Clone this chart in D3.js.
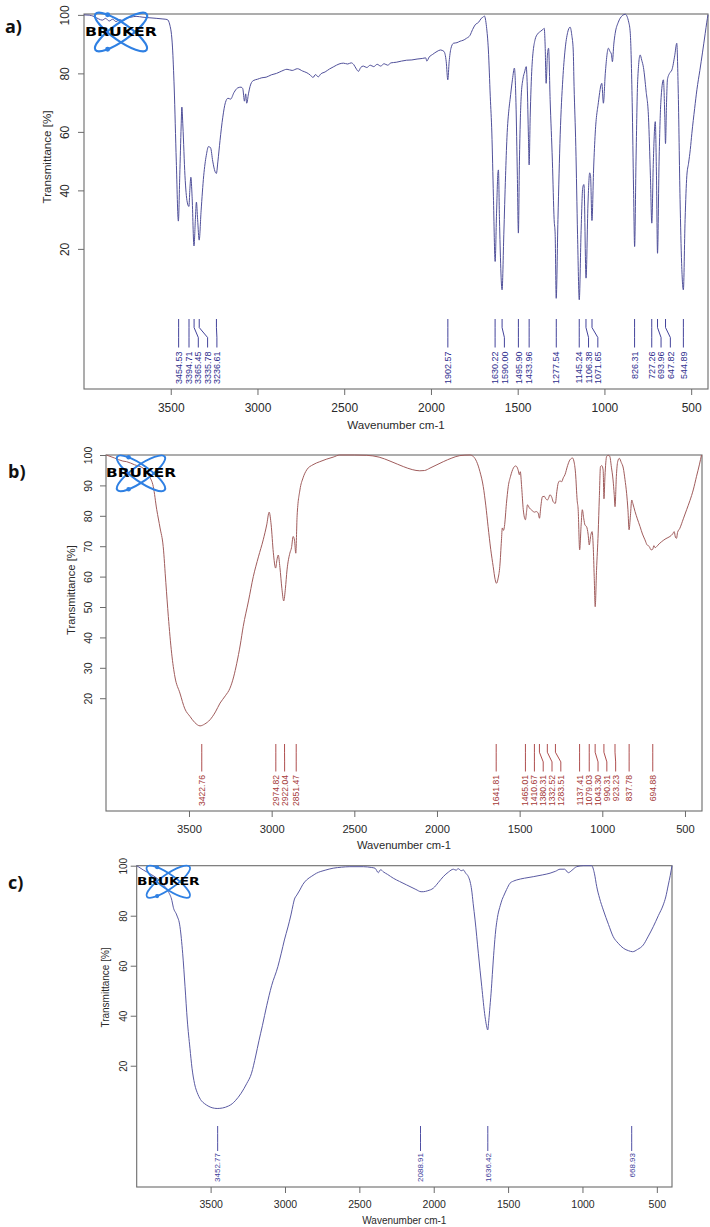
<!DOCTYPE html>
<html>
<head>
<meta charset="utf-8">
<script src="https://cdn.jsdelivr.net/npm/d3@7"></script>
<style>
body { margin: 0; background: #fff; }
svg { display: block; }
</style>
</head>
<body>
<svg id="chart" width="710" height="1227"></svg>
<script>
// Spectra as [wavenumber cm-1, transmittance %]
const specA = [
  [4000, 100], [3970, 99.9], [3940, 99.4], [3915, 98.6], [3895, 98.2], [3875, 98.8], [3855, 97.9],
  [3835, 98.5], [3815, 97.7], [3795, 98.4], [3775, 98.0], [3755, 98.9], [3730, 99.2], [3700, 99.5],
  [3660, 99.2], [3620, 99.0], [3580, 98.8], [3545, 98.6], [3520, 98.4], [3505, 96.5], [3490, 89],
  [3480, 75], [3468, 50], [3456, 29.5], [3448, 45], [3440, 62], [3436, 68.5], [3430, 62], [3418, 45],
  [3405, 36], [3395, 34.5], [3390, 40], [3384, 44.5], [3377, 38], [3366, 21], [3358, 30], [3352, 36],
  [3345, 30], [3336, 23], [3325, 33], [3310, 45], [3295, 52], [3282, 55], [3270, 54.5], [3258, 50],
  [3245, 46.5], [3237, 45.8], [3228, 50], [3216, 57], [3200, 65], [3185, 70], [3170, 71.5],
  [3155, 71.2], [3135, 73.5], [3115, 75], [3095, 75.3], [3085, 74.8], [3075, 70.5], [3068, 73],
  [3062, 69.8], [3052, 73], [3043, 75.5], [3025, 77.5], [3000, 78], [2975, 78.5], [2950, 78.7],
  [2920, 79.5], [2890, 80], [2860, 80.8], [2830, 81.4], [2800, 81], [2770, 81.6], [2740, 80.8],
  [2715, 80.2], [2695, 79.4], [2680, 78.6], [2665, 79.6], [2650, 78.8], [2635, 79.8], [2610, 80.5],
  [2585, 81.5], [2560, 82.3], [2530, 83.2], [2505, 83.5], [2480, 83.2], [2460, 83.6], [2445, 83.0],
  [2430, 81.5], [2418, 80.7], [2405, 82.0], [2390, 82.5], [2370, 82.0], [2350, 82.8], [2330, 82.3],
  [2310, 83.1], [2290, 82.5], [2270, 83.3], [2250, 82.8], [2230, 83.6], [2200, 83.8], [2170, 84.2],
  [2140, 84.5], [2110, 84.6], [2080, 84.9], [2050, 85.1], [2030, 85.3], [2024, 84.2], [2010, 85.6],
  [1990, 86.5], [1965, 87.5], [1945, 88], [1925, 87.5], [1912, 84], [1903, 77.8], [1895, 84],
  [1885, 88.5], [1870, 90.3], [1850, 90.5], [1832, 91], [1815, 91.3], [1795, 92], [1775, 93],
  [1760, 95], [1745, 96.6], [1725, 97.5], [1710, 98.8], [1698, 99.3], [1692, 99.6], [1680, 96],
  [1669, 88], [1658, 72], [1649, 59.6], [1640, 38], [1630, 15.7], [1622, 32], [1614, 46], [1611, 47],
  [1605, 30], [1590, 6], [1580, 25], [1570, 45], [1562, 58], [1550, 68], [1544, 71], [1530, 78],
  [1519, 81.8], [1510, 70], [1502, 45], [1496, 25.4], [1490, 50], [1480, 72], [1470, 78], [1460, 80.5],
  [1451, 82.3], [1445, 76], [1438, 58], [1434, 48.7], [1428, 65], [1418, 82], [1400, 91.5],
  [1385, 93.5], [1370, 94.3], [1355, 95], [1347, 95.4], [1342, 90], [1336, 76.6], [1329, 86],
  [1322, 88.6], [1313, 71], [1300, 50], [1290, 30], [1284, 25], [1278, 3.1], [1268, 30], [1255, 59],
  [1240, 78], [1227, 88], [1212, 94], [1198, 95.8], [1188, 93], [1180, 88], [1175, 75.5], [1165, 55],
  [1155, 25], [1145, 2.6], [1135, 25], [1125, 41], [1118, 42], [1106, 10], [1095, 35], [1085, 46],
  [1080, 45], [1072, 29.7], [1062, 48], [1053, 59.6], [1035, 70], [1015, 76.6], [1006, 69.8],
  [995, 80], [977, 88.6], [968, 87.5], [960, 86.6], [954, 84], [946, 90], [938, 93.7], [920, 97.5],
  [909, 98.9], [880, 100.2], [860, 97.5], [851, 93.7], [840, 70], [832, 40], [826, 20.8], [818, 50],
  [808, 78], [794, 86.3], [785, 84.5], [775, 82], [760, 74], [746, 65], [735, 45], [727, 28.8],
  [718, 50], [707, 63.5], [700, 45], [694, 18.5], [685, 50], [675, 70], [660, 77.8], [652, 65],
  [648, 56], [642, 70], [637, 77.8], [625, 80], [611, 81.2], [595, 86], [583, 90.3], [575, 75],
  [564, 36.8], [555, 15], [545, 6], [535, 30], [525, 45], [515, 49.3], [505, 54], [496, 59.5],
  [480, 68], [467, 74.4], [450, 81], [435, 87], [419, 93.7], [410, 97.5], [403, 100]
]
const peaksA = [3454.53, 3394.71, 3365.45, 3335.78, 3236.61, 1902.57, 1630.22, 1590.00, 1495.90,
  1433.96, 1277.54, 1145.24, 1106.38, 1071.65, 826.31, 727.26, 693.96, 647.82, 544.89]

const specB = [
  [4000, 100], [3950, 99], [3900, 98], [3877, 97.8], [3830, 96.8], [3776, 95.6], [3740, 93],
  [3716, 89.6], [3695, 82], [3675, 76], [3656, 69.9], [3640, 58], [3625, 46.9], [3605, 34.8],
  [3585, 27], [3555, 21.7], [3525, 16.5], [3494, 14], [3465, 12], [3433, 10.9], [3405, 11.5],
  [3373, 12.9], [3340, 15.5], [3312, 18.4], [3280, 20.8], [3252, 23.3], [3230, 27], [3211, 31.5],
  [3190, 37.5], [3172, 43.6], [3140, 52], [3111, 60], [3080, 66.5], [3051, 72.1], [3030, 77],
  [3015, 81.2], [3003, 77], [2990, 68], [2976, 62.8], [2968, 65.5], [2960, 67.1], [2950, 63],
  [2938, 56], [2927, 52], [2917, 56], [2907, 62.2], [2890, 67.7], [2880, 69.5], [2870, 73.2],
  [2862, 72], [2854, 67.7], [2846, 80], [2829, 88.5], [2810, 92.5], [2788, 95.1], [2750, 96.8],
  [2709, 97.8], [2670, 98.6], [2628, 99.3], [2588, 100], [2500, 100], [2425, 99.9], [2350, 99.3],
  [2284, 98], [2240, 97], [2204, 96.2], [2150, 95.2], [2104, 94.8], [2075, 94.9], [2042, 95.7],
  [2000, 96.8], [1962, 97.8], [1910, 99], [1862, 99.8], [1800, 100], [1780, 99.5], [1760, 97.8],
  [1740, 94.5], [1720, 89.6], [1705, 83.5], [1691, 76.5], [1675, 69], [1660, 63.3], [1648, 59],
  [1640, 57.8], [1630, 59.5], [1620, 63.3], [1610, 72], [1605, 76], [1598, 75.2], [1592, 76.5],
  [1580, 84], [1569, 89.6], [1555, 93], [1538, 95.7], [1525, 96.4], [1518, 96.2], [1508, 94.8],
  [1502, 93.5], [1496, 94.5], [1488, 89.6], [1478, 82], [1465, 78.7], [1458, 81.5], [1453, 83.6],
  [1440, 82.5], [1430, 82], [1420, 81.5], [1410, 81.2], [1400, 81.4], [1388, 80.9], [1380, 79.2],
  [1372, 83], [1362, 86.3], [1350, 86.4], [1343, 85.7], [1332, 85.2], [1325, 85.8], [1317, 86.9],
  [1305, 86], [1297, 84.6], [1284, 84.1], [1275, 88], [1267, 90.7], [1256, 91.5], [1246, 91.2],
  [1236, 92.5], [1226, 93.5], [1210, 96.5], [1196, 98.4], [1180, 99], [1172, 98], [1162, 94],
  [1152, 85], [1146, 82], [1137, 68.8], [1128, 77], [1121, 82], [1112, 79], [1105, 77], [1095, 76.4],
  [1086, 74], [1079, 70.4], [1070, 73.5], [1062, 74.8], [1055, 70], [1049, 60], [1043, 50.1],
  [1035, 62], [1025, 74.3], [1018, 86], [1011, 96.2], [1003, 96.5], [995, 95.1], [990, 85.6],
  [984, 93], [974, 99.5], [965, 99.9], [955, 99.6], [945, 96], [935, 91.8], [928, 87], [923, 83],
  [915, 93], [907, 97.8], [897, 98.9], [885, 97.5], [873, 95.7], [863, 92], [853, 87.4], [845, 82],
  [838, 75.4], [830, 80], [822, 85.2], [815, 84], [802, 81.4], [788, 79], [772, 76.5], [757, 74],
  [742, 72.1], [730, 70.5], [716, 69.9], [705, 68.8], [695, 69], [688, 70.2], [680, 69.5],
  [671, 69.9], [656, 70.8], [641, 71.5], [615, 72.5], [591, 73.2], [575, 74], [565, 74.8],
  [558, 73], [551, 72.6], [545, 74.5], [531, 75.9], [510, 79], [490, 82], [470, 85], [450, 88.5],
  [430, 93], [412, 97], [400, 100]
]
const peaksB = [3422.76, 2974.82, 2922.04, 2851.47, 1641.81, 1465.01, 1410.67, 1380.31, 1332.52,
  1283.51, 1137.41, 1079.03, 1043.30, 990.31, 923.23, 837.78, 694.88]

const specC = [
  [3997, 100], [3953, 98.3], [3900, 96.5], [3862, 95], [3820, 92.5], [3784, 89.6], [3760, 86],
  [3751, 83.4], [3728, 80.3], [3706, 75.6], [3688, 65], [3672, 51.6], [3657, 38.3], [3639, 27],
  [3625, 19], [3608, 12.8], [3585, 8.5], [3562, 6], [3540, 4.8], [3517, 3.9], [3490, 3.2],
  [3456, 2.9], [3420, 3.1], [3380, 3.9], [3355, 4.8], [3334, 6], [3295, 9], [3258, 12.8],
  [3225, 17], [3197, 23.9], [3175, 30], [3152, 36], [3123, 44], [3090, 52], [3048, 59.6],
  [3025, 65], [3004, 70.3], [2980, 75.5], [2960, 80.3], [2945, 84.5], [2938, 86.3], [2920, 88.3],
  [2900, 90.3], [2880, 92.5], [2855, 94.3], [2820, 95.8], [2788, 97], [2730, 98.2], [2676, 99],
  [2620, 99.4], [2564, 99.6], [2473, 99.6], [2420, 99.3], [2395, 99], [2372, 97.2], [2360, 98.3],
  [2354, 98.3], [2340, 97.6], [2310, 96.5], [2272, 95], [2230, 93.7], [2182, 92.3], [2120, 90.5],
  [2085, 89.6], [2070, 89.6], [2040, 90], [2003, 91], [1970, 93.2], [1936, 95.6], [1900, 97.5],
  [1868, 98.6], [1850, 98.2], [1835, 98.8], [1815, 98], [1801, 98.3], [1785, 97], [1767, 95.6],
  [1755, 93.5], [1745, 90.3], [1735, 85], [1722, 78.3], [1700, 65], [1677, 51.6], [1655, 39.6],
  [1645, 36], [1637, 34.3], [1630, 38], [1622, 43.6], [1612, 51], [1604, 58.3], [1595, 66],
  [1583, 74.3], [1575, 78], [1568, 80.5], [1561, 82.3], [1552, 84.2], [1540, 86.5], [1532, 87.6],
  [1510, 90.5], [1487, 93], [1465, 93.8], [1442, 94.3], [1390, 95], [1331, 95.6], [1270, 96.3],
  [1218, 97], [1180, 97.8], [1151, 98.6], [1120, 98.6], [1095, 97.2], [1070, 98.2], [1039, 99.6],
  [994, 100], [938, 100], [920, 97], [904, 91.6], [885, 87], [860, 82.3], [825, 76.5], [793, 71.6],
  [760, 69], [725, 67], [690, 66], [663, 65.6], [630, 66.5], [591, 68.3], [560, 71.5], [524, 75.6],
  [490, 80], [457, 84.3], [440, 87.5], [423, 92.3], [410, 96], [398, 100]
]
const peaksC = [3452.77, 2088.91, 1636.42, 668.93]

const xTicks = [3500, 3000, 2500, 2000, 1500, 1000, 500]
const yTicksA = [20, 40, 60, 80, 100]
const yTicksB = [20, 30, 40, 50, 60, 70, 80, 90, 100]
const yTicksC = [20, 40, 60, 80, 100]

const xTitle = 'Wavenumber cm-1'
const yTitle = 'Transmittance [%]'

// Layout per panel (pixels)
const panels = [
  { tag: 'a)', tagX: 5, tagY: 33, spec: specA, peaks: peaksA, yTicks: yTicksA,
    left: 84, right: 708, top: 14, bottom: 389, wDom: [4000, 403], tDom: [-27.9, 100.3],
    tick: 12, ytick: 12, title: 11.6, yTitleX: 47, yTitleY: 157, xLabOff: 19, yLabOff: 19, xTitleY: 425,
    lineTop: 319, lineBot: 347.5, textTop: 351.5, peakFont: 9, gap: 9.3,
    stroke: '#50509a', labColor: '#2e2e8e',
    logo: { cx: 121, cy: 32, s: 1.08, fs: 12, tw: 72 } },
  { tag: 'b)', tagX: 8, tagY: 478, spec: specB, peaks: peaksB, yTicks: yTicksB,
    left: 106, right: 702, top: 455, bottom: 811, wDom: [4002, 397], tDom: [-17.1, 100],
    tick: 11.2, ytick: 10.5, title: 11.2, yTitleX: 71.5, yTitleY: 590, xLabOff: 18, yLabOff: 17.5, xTitleY: 845,
    lineTop: 744, lineBot: 771.5, textTop: 775, peakFont: 8.6, gap: 8.8,
    stroke: '#a05c5c', labColor: '#a53a3a',
    logo: { cx: 141, cy: 473.3, s: 1.0, fs: 11.5, tw: 70 } },
  { tag: 'c)', tagX: 8, tagY: 889, spec: specC, peaks: peaksC, yTicks: yTicksC,
    left: 136.7, right: 672, top: 865.7, bottom: 1187, wDom: [3997, 398], tDom: [-28.5, 100],
    tick: 10.5, ytick: 10, title: 10, yTitleX: 105, yTitleY: 987.5, xLabOff: 17, yLabOff: 13.5, xTitleY: 1220.5,
    lineTop: 1126, lineBot: 1151, textTop: 1153, peakFont: 8, gap: 8.5,
    stroke: '#5a5aa2', labColor: '#3c3c9a',
    logo: { cx: 168.3, cy: 881.7, s: 0.9, fs: 10.5, tw: 62.7 } }
]

const axisColor = '#6b6b6b'
const textColor = '#2a2a2a'
const logoBlue = '#2f80e3'
const font = '"Liberation Sans", Arial, sans-serif'

const svg = d3.select('#chart')
svg.append('rect').attr('width', 710).attr('height', 1227).attr('fill', '#fff')

panels.forEach(drawPanel)

function drawPanel(p) {
  const g = svg.append('g')
  const x = d3.scaleLinear().domain(p.wDom).range([p.left, p.right])
  const y = d3.scaleLinear().domain(p.tDom).range([p.bottom, p.top])

  // frame
  g.append('rect')
    .attr('x', p.left).attr('y', p.top)
    .attr('width', p.right - p.left).attr('height', p.bottom - p.top)
    .attr('fill', 'none').attr('stroke', axisColor).attr('stroke-width', 1.1)

  // bottom axis
  const xa = g.append('g')
    .attr('transform', `translate(0,${p.bottom})`)
    .call(d3.axisBottom(x).tickValues(xTicks).tickSize(6).tickFormat(d3.format('d')))
  xa.attr('font-family', font).attr('font-size', p.tick)
  xa.select('.domain').remove()
  xa.selectAll('line').attr('stroke', axisColor)
  xa.selectAll('text').attr('y', p.xLabOff).attr('dy', '0.35em').attr('fill', textColor)

  // left axis, labels parallel to the axis
  const ya = g.append('g')
    .attr('transform', `translate(${p.left},0)`)
    .call(d3.axisLeft(y).tickValues(p.yTicks).tickSize(6))
  ya.attr('font-family', font).attr('font-size', p.ytick)
  ya.select('.domain').remove()
  ya.selectAll('line').attr('stroke', axisColor)
  ya.selectAll('text')
    .attr('x', 0).attr('y', -p.yLabOff).attr('dy', '0.35em')
    .attr('transform', 'rotate(-90)')
    .attr('text-anchor', 'middle').attr('fill', textColor)

  // titles
  g.append('text')
    .attr('x', (p.left + p.right) / 2).attr('y', p.xTitleY).attr('dy', '0.35em')
    .attr('text-anchor', 'middle').attr('font-family', font).attr('font-size', p.title)
    .attr('fill', textColor).text(xTitle)
  g.append('text')
    .attr('transform', `translate(${p.yTitleX},${p.yTitleY}) rotate(-90)`)
    .attr('dy', '0.35em')
    .attr('text-anchor', 'middle').attr('font-family', font).attr('font-size', p.title)
    .attr('fill', textColor).text(yTitle)

  // spectrum
  const line = d3.line()
    .x(d => x(d[0]))
    .y(d => y(d[1]))
    .curve(d3.curveMonotoneX)
  g.append('path')
    .datum(p.spec)
    .attr('d', line)
    .attr('fill', 'none')
    .attr('stroke', p.stroke)
    .attr('stroke-width', 1)

  // peak picks: spread labels that would overlap
  const px = p.peaks.map(w => x(w))
  const lx = []
  px.forEach((v, i) => lx.push(i && lx[i - 1] + p.gap > v ? lx[i - 1] + p.gap : v))
  const len = p.lineBot - p.lineTop
  const marks = g.append('g')
  p.peaks.forEach((w, i) => {
    const path = d3.path()
    path.moveTo(px[i], p.lineTop)
    path.lineTo(px[i], p.lineTop + len * 0.3)
    path.lineTo(lx[i], p.lineTop + len * 0.65)
    path.lineTo(lx[i], p.lineBot)
    marks.append('path').attr('d', path.toString())
      .attr('fill', 'none').attr('stroke', p.labColor).attr('stroke-width', 0.9)
    marks.append('text')
      .attr('transform', `translate(${lx[i]},${p.textTop}) rotate(-90)`)
      .attr('dy', '0.35em')
      .attr('text-anchor', 'end')
      .attr('font-family', font).attr('font-size', p.peakFont)
      .attr('fill', p.labColor)
      .text(d3.format('.2f')(w))
  })

  drawLogo(p.logo)

  // panel letter
  svg.append('text')
    .attr('x', p.tagX).attr('y', p.tagY)
    .attr('font-family', '"Open Sans", "DejaVu Sans", sans-serif')
    .attr('font-weight', 'bold').attr('font-size', 18)
    .attr('fill', '#111').text(p.tag)
}

function drawLogo(l) {
  const lg = svg.append('g').attr('transform', `translate(${l.cx},${l.cy}) scale(${l.s})`)
  ;[35, -35].forEach(a => {
    lg.append('ellipse')
      .attr('rx', 29).attr('ry', 8)
      .attr('transform', `rotate(${a})`)
      .attr('fill', 'none').attr('stroke', logoBlue).attr('stroke-width', 2)
  })
  ;[[-12.4, -16], [-12.4, 16]].forEach(d => {
    lg.append('circle').attr('cx', d[0]).attr('cy', d[1]).attr('r', 2.3).attr('fill', logoBlue)
  })
  svg.append('text')
    .attr('x', l.cx - l.tw / 2).attr('y', l.cy + l.fs * 0.36)
    .attr('textLength', l.tw).attr('lengthAdjust', 'spacingAndGlyphs')
    .attr('font-family', '"DejaVu Sans", sans-serif')
    .attr('font-weight', 'bold').attr('font-size', l.fs)
    .attr('fill', '#000').text('BRUKER')
}
</script>
</body>
</html>
